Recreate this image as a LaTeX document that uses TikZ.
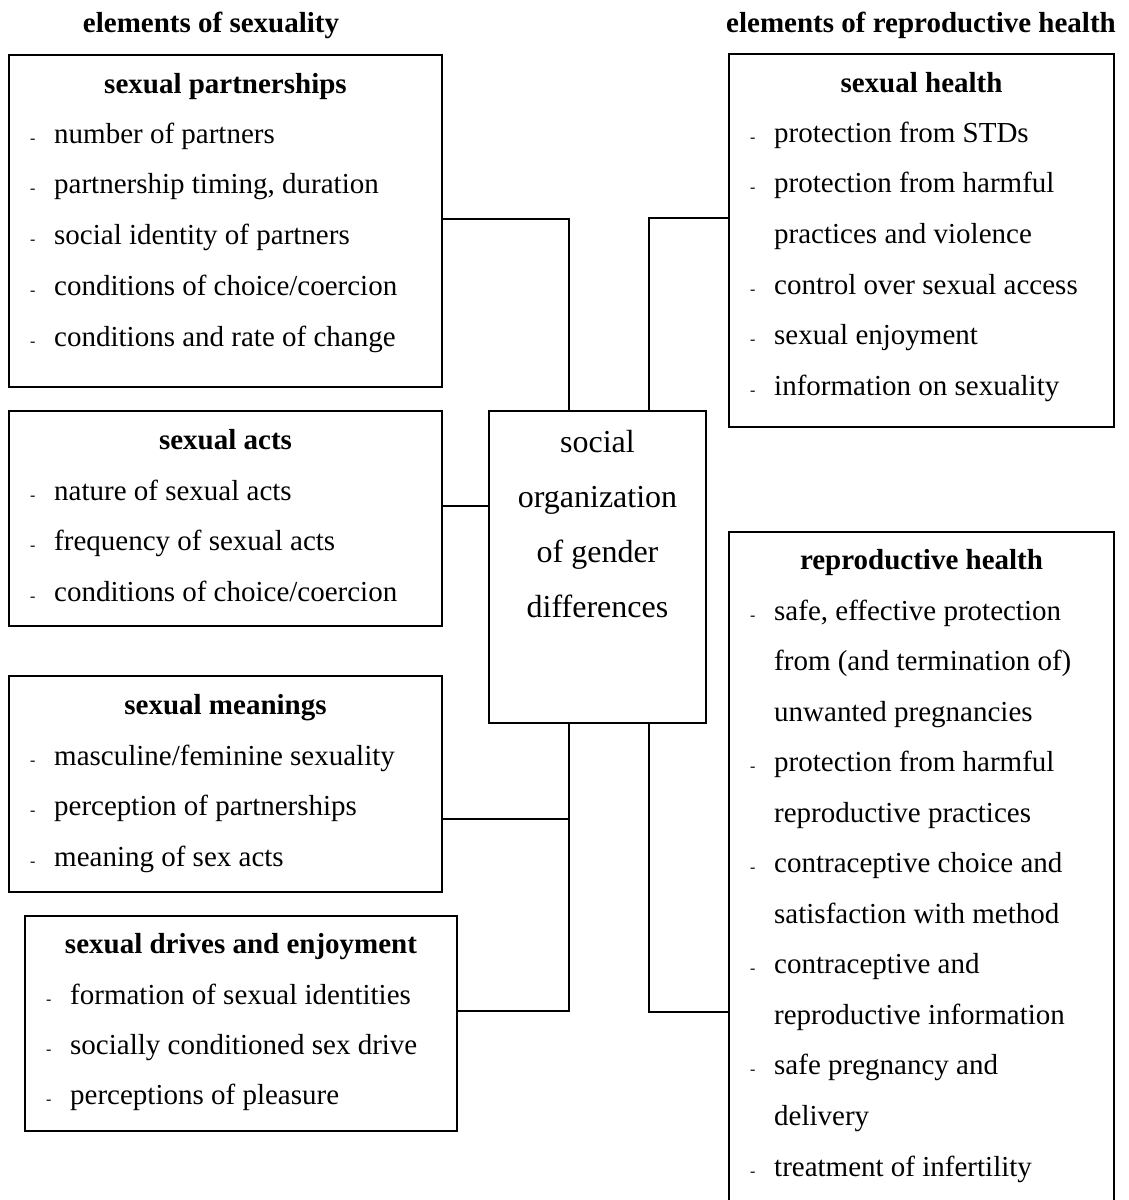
\documentclass[tikz,border=0pt]{standalone}
\usepackage{fontspec}
\setmainfont{Liberation Serif}
\usetikzlibrary{calc}
\begin{document}
\begin{tikzpicture}[x=1pt,y=-1pt,
  box/.style={draw, line width=1.5pt, rectangle, inner sep=0pt, outer sep=0pt, anchor=north west},
  conn/.style={line width=1.5pt},
  itemtxt/.style={anchor=base west, inner sep=0pt, font=\fontsize{29}{34}\selectfont},
  dashtxt/.style={anchor=base west, inner sep=0pt, font=\fontsize{16}{20}\selectfont},
  boxtitle/.style={anchor=base, inner sep=0pt, font=\fontsize{29}{34}\selectfont\bfseries},
  centtxt/.style={anchor=base, inner sep=0pt, font=\fontsize{32}{38}\selectfont}]
\useasboundingbox (0,0) rectangle (1129,1200);

% column titles
\node[boxtitle] (colL) at (211,32) {elements of sexuality};
\node[boxtitle] (colR) at (921,32) {elements of reproductive health};

% boxes
\node[box, minimum width=433pt, minimum height=332pt] (b1) at (9,55) {};
\node[box, minimum width=433pt, minimum height=215pt] (b2) at (9,411) {};
\node[box, minimum width=433pt, minimum height=216pt] (b3) at (9,676) {};
\node[box, minimum width=432pt, minimum height=215pt] (b4) at (25,916) {};
\node[box, minimum width=217pt, minimum height=312pt] (cen) at (489,411) {};
\node[box, minimum width=385pt, minimum height=373pt] (sh) at (729,54) {};
\node[box, minimum width=385pt, minimum height=690pt] (rh) at (729,532) {};

% box titles
\node[boxtitle] (t1) at (225.5,93) {sexual partnerships};
\node[boxtitle] (t2) at (225.5,449) {sexual acts};
\node[boxtitle] (t3) at (225.5,714) {sexual meanings};
\node[boxtitle] (t4) at (241,953) {sexual drives and enjoyment};
\node[boxtitle] (t5) at (921.5,92) {sexual health};
\node[boxtitle] (t6) at (921.5,569) {reproductive health};

% items box 1
\foreach \t [count=\i] in {number of partners, {partnership timing, duration}, social identity of partners, conditions of choice/coercion, conditions and rate of change}{
  \pgfmathsetmacro{\yy}{143+(\i-1)*50.75}
  \node[dashtxt] (d1-\i) at (30,\yy) {-};
  \node[itemtxt] (i1-\i) at (54,\yy) {\t};
}
% items box 2
\foreach \t [count=\i] in {nature of sexual acts, frequency of sexual acts, conditions of choice/coercion}{
  \pgfmathsetmacro{\yy}{500+(\i-1)*50.5}
  \node[dashtxt] (d2-\i) at (30,\yy) {-};
  \node[itemtxt] (i2-\i) at (54,\yy) {\t};
}
% items box 3
\foreach \t [count=\i] in {masculine/feminine sexuality, perception of partnerships, meaning of sex acts}{
  \pgfmathsetmacro{\yy}{765+(\i-1)*50.5}
  \node[dashtxt] (d3-\i) at (30,\yy) {-};
  \node[itemtxt] (i3-\i) at (54,\yy) {\t};
}
% items box 4
\foreach \t [count=\i] in {formation of sexual identities, socially conditioned sex drive, perceptions of pleasure}{
  \pgfmathsetmacro{\yy}{1004+(\i-1)*50.3}
  \node[dashtxt] (d4-\i) at (46,\yy) {-};
  \node[itemtxt] (i4-\i) at (70,\yy) {\t};
}
% items sexual health
\foreach \d/\t [count=\i] in {1/protection from STDs, 1/protection from harmful, 0/practices and violence, 1/control over sexual access, 1/sexual enjoyment, 1/information on sexuality}{
  \pgfmathsetmacro{\yy}{142+(\i-1)*50.7}
  \ifnum\d=1 \node[dashtxt] (d5-\i) at (750,\yy) {-};\fi
  \node[itemtxt] (i5-\i) at (774,\yy) {\t};
}
% items reproductive health
\foreach \d/\t [count=\i] in {1/{safe, effective protection}, 0/from (and termination of), 0/unwanted pregnancies, 1/protection from harmful, 0/reproductive practices, 1/contraceptive choice and, 0/satisfaction with method, 1/contraceptive and, 0/reproductive information, 1/safe pregnancy and, 0/delivery, 1/treatment of infertility}{
  \pgfmathsetmacro{\yy}{620+(\i-1)*50.55}
  \ifnum\d=1 \node[dashtxt] (d6-\i) at (750,\yy) {-};\fi
  \node[itemtxt] (i6-\i) at (774,\yy) {\t};
}

% center text
\node[centtxt] (c1) at (597.5,452) {social};
\node[centtxt] (c2) at (597.5,507) {organization};
\node[centtxt] (c3) at (597.5,562) {of gender};
\node[centtxt] (c4) at (597.5,617) {differences};

% connectors
\draw[conn] ($(b1.north east)+(0,164)$) -| ($(cen.north west)+(80,0)$);
\draw[conn] ($(cen.north west)+(160,0)$) |- ($(sh.north west)+(0,164)$);
\draw[conn] ($(b2.north east)+(0,95)$) -- ($(cen.north west)+(0,95)$);
\draw[conn] ($(cen.south west)+(80,0)$) |- ($(b4.north east)+(0,95)$);
\draw[conn] ($(b3.north east)+(0,143)$) -- ($(cen.south west)+(80,96)$);
\draw[conn] ($(cen.south west)+(160,0)$) |- ($(rh.north west)+(0,480)$);
\end{tikzpicture}
\end{document}
